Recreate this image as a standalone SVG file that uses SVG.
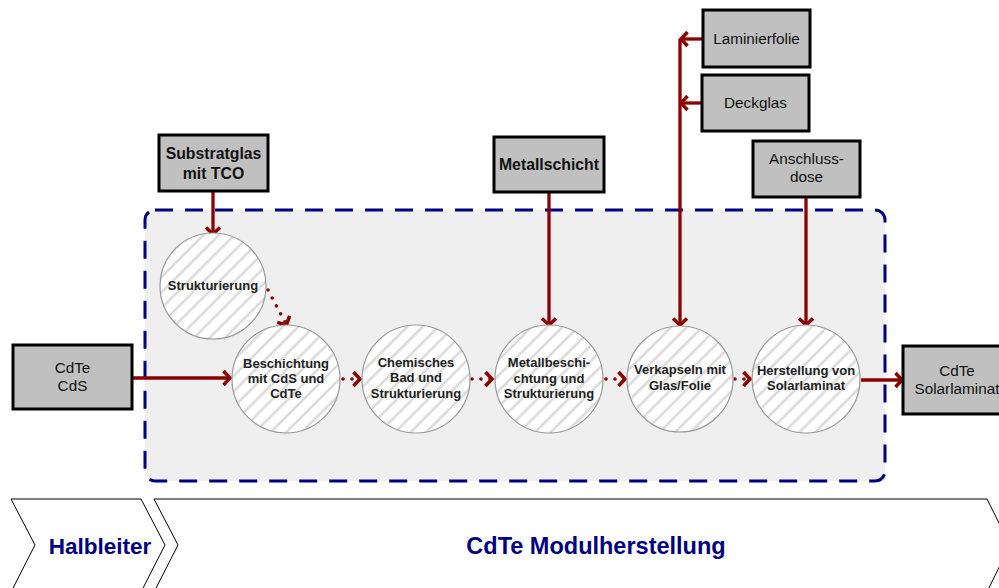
<svg xmlns="http://www.w3.org/2000/svg" width="999" height="588" viewBox="0 0 999 588">
  <style>
    .box { fill: #c0c0c0; stroke: #000; stroke-width: 3; }
    .step { fill: url(#hatch); stroke: #9a9a9a; stroke-width: 1.2; }
    .btxt { font-family: "Liberation Sans", Arial, sans-serif; font-size: 15.3px; fill: #111; text-anchor: middle; }
    .bold { font-weight: bold; font-size: 15.8px; }
    .ctxt { font-family: "Liberation Sans", Arial, sans-serif; font-size: 13px; font-weight: bold; fill: #222; text-anchor: middle; }
    .flow { fill: none; stroke: #8b0000; stroke-width: 3.3; marker-end: url(#arrow); }
    .dot { fill: none; stroke: #8b0000; stroke-width: 3.6; stroke-linecap: round; stroke-dasharray: 0 9; marker-end: url(#arrow); }
    .phase { fill: #fff; stroke: #000; stroke-width: 1; }
    .ptxt { font-family: "Liberation Sans", Arial, sans-serif; font-weight: bold; fill: #000080; text-anchor: middle; }
  </style>
  <defs>
    <pattern id="hatch" patternUnits="userSpaceOnUse" width="11" height="11" patternTransform="rotate(45)">
      <rect width="11" height="11" fill="#ffffff"/>
      <line x1="2" y1="0" x2="2" y2="11" stroke="#dadada" stroke-width="2.6"/>
    </pattern>
    <marker id="arrow" viewBox="-10 -10 20 20" markerWidth="20" markerHeight="20" markerUnits="userSpaceOnUse" refX="-1" refY="0" orient="auto">
      <path d="M-6.5,-7 L0,0 L-6.5,7" fill="none" stroke="#8b0000" stroke-width="3.5"/>
    </marker>
  </defs>

  <rect width="999" height="588" fill="#ffffff"/>

  <!-- process area -->
  <rect id="module-area" x="145" y="210" width="740" height="271" rx="10" fill="#efefef" stroke="#000080" stroke-width="3" stroke-dasharray="18 12"/>

  <!-- connectors -->
  <g id="connectors">
    <line class="flow" x1="213" y1="191" x2="213" y2="233"/>
    <line class="dot" x1="268" y1="290" x2="286" y2="324"/>
    <line class="flow" x1="132" y1="378" x2="229" y2="378"/>
    <line class="dot" x1="343" y1="379" x2="359" y2="379"/>
    <line class="dot" x1="472" y1="379" x2="491" y2="379"/>
    <line class="dot" x1="606" y1="379" x2="624" y2="379"/>
    <line class="dot" x1="735" y1="379" x2="749" y2="379"/>
    <line class="flow" x1="861" y1="380" x2="901" y2="380"/>
    <line class="flow" x1="549" y1="192" x2="549" y2="324"/>
    <line class="flow" x1="806" y1="197" x2="806" y2="324"/>
    <line class="flow" x1="680" y1="39" x2="680" y2="324"/>
    <line class="flow" x1="703" y1="39" x2="682" y2="39"/>
    <line class="flow" x1="702" y1="103" x2="682" y2="103"/>
  </g>

  <!-- input / output boxes -->
  <g id="substratglas">
    <rect class="box" x="159" y="135" width="109" height="56"/>
    <text class="btxt bold" x="213.5" y="159">Substratglas</text>
    <text class="btxt bold" x="213.5" y="179">mit TCO</text>
  </g>
  <g id="cdte-cds">
    <rect class="box" x="13" y="345" width="119" height="64"/>
    <text class="btxt" x="72.5" y="373">CdTe</text>
    <text class="btxt" x="72.5" y="391">CdS</text>
  </g>
  <g id="metallschicht">
    <rect class="box" x="494" y="137" width="110" height="55"/>
    <text class="btxt bold" x="549" y="170">Metallschicht</text>
  </g>
  <g id="laminierfolie">
    <rect class="box" x="703" y="10" width="107" height="57"/>
    <text class="btxt" x="756.5" y="44">Laminierfolie</text>
  </g>
  <g id="deckglas">
    <rect class="box" x="702" y="75" width="107" height="56"/>
    <text class="btxt" x="755.5" y="108">Deckglas</text>
  </g>
  <g id="anschlussdose">
    <rect class="box" x="753" y="141" width="107" height="56"/>
    <text class="btxt" x="806.5" y="164">Anschluss-</text>
    <text class="btxt" x="806.5" y="182">dose</text>
  </g>
  <g id="cdte-solarlaminat">
    <rect class="box" x="903" y="346" width="110" height="68"/>
    <text class="btxt" x="957" y="376">CdTe</text>
    <text class="btxt" x="957" y="394">Solarlaminat</text>
  </g>

  <!-- process steps -->
  <g id="strukturierung">
    <circle class="step" cx="213" cy="286" r="53"/>
    <text class="ctxt" x="213" y="290">Strukturierung</text>
  </g>
  <g id="beschichtung">
    <circle class="step" cx="286" cy="379" r="54"/>
    <text class="ctxt" x="286" y="368">Beschichtung</text>
    <text class="ctxt" x="286" y="383">mit CdS und</text>
    <text class="ctxt" x="286" y="398">CdTe</text>
  </g>
  <g id="chemisches-bad">
    <circle class="step" cx="416" cy="379" r="54"/>
    <text class="ctxt" x="416" y="367">Chemisches</text>
    <text class="ctxt" x="416" y="382">Bad und</text>
    <text class="ctxt" x="416" y="398">Strukturierung</text>
  </g>
  <g id="metallbeschichtung">
    <circle class="step" cx="549" cy="379" r="54"/>
    <text class="ctxt" x="549" y="367">Metallbeschi-</text>
    <text class="ctxt" x="549" y="383">chtung und</text>
    <text class="ctxt" x="549" y="398">Strukturierung</text>
  </g>
  <g id="verkapseln">
    <circle class="step" cx="680" cy="379" r="53"/>
    <text class="ctxt" x="680" y="374">Verkapseln mit</text>
    <text class="ctxt" x="680" y="390">Glas/Folie</text>
  </g>
  <g id="herstellung">
    <circle class="step" cx="806" cy="379" r="54"/>
    <text class="ctxt" x="806" y="375">Herstellung von</text>
    <text class="ctxt" x="806" y="390">Solarlaminat</text>
  </g>

  <!-- value chain phases -->
  <g id="phase-halbleiter">
    <polygon class="phase" points="11,499 141,499 165,545 141,592 11,592 35,545"/>
    <text class="ptxt" x="100" y="554" font-size="22.5">Halbleiter</text>
  </g>
  <g id="phase-modul">
    <polygon class="phase" points="154,499 987,499 1010,545 987,592 154,592 178,545"/>
    <text class="ptxt" x="596" y="554" font-size="23.5">CdTe Modulherstellung</text>
  </g>
</svg>
